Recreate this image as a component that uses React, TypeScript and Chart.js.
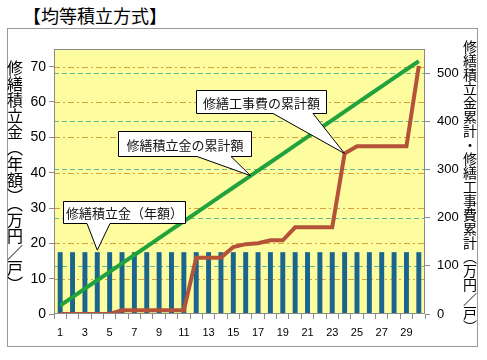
import React, { useEffect, useRef } from 'react';
import { Chart, registerables } from 'chart.js';

Chart.register(...registerables);

const years = ['1','2','3','4','5','6','7','8','9','10','11','12','13','14','15','16','17','18','19','20','21','22','23','24','25','26','27','28','29','30'];
const annualReserve = [17.5,17.5,17.5,17.5,17.5,17.5,17.5,17.5,17.5,17.5,17.5,17.5,17.5,17.5,17.5,17.5,17.5,17.5,17.5,17.5,17.5,17.5,17.5,17.5,17.5,17.5,17.5,17.5,17.5,17.5];
const cumulativeReserve = [17.5,35,52.5,70,87.5,105,122.5,140,157.5,175,192.5,210,227.5,245,262.5,280,297.5,315,332.5,350,367.5,385,402.5,420,437.5,455,472.5,490,507.5,525];
const cumulativeRepair = [0,0,0,0,0,8,8,8,8,8,8,117,117,117,139,145,147,153,153,180,180,180,180,333,348,348,348,348,348,515];
const leftTicks = [0,10,20,30,40,50,60,70];
const rightTicks = [0,100,200,300,400,500];

const titleText = '【均等積立方式】';
const leftTitle = '修繕積立金（年額）（万円／戸）';
const rightTitle = '修繕積立金累計・修繕工事費累計（万円／戸）';
const calloutAnnual = '修繕積立金（年額）';
const calloutReserve = '修繕積立金の累計額';
const calloutRepair = '修繕工事費の累計額';

const JP = '"Noto Sans CJK JP", "Noto Sans", sans-serif';
const NUM = '"Liberation Sans", Arial, sans-serif';

function drawCallout(ctx: CanvasRenderingContext2D, box: number[], base: number[], tip: number[], text: string) {
  const [x1, y1, x2, y2] = box;
  ctx.save();
  ctx.beginPath();
  ctx.moveTo(x1, y1);
  ctx.lineTo(x2, y1);
  ctx.lineTo(x2, y2);
  ctx.lineTo(base[1], y2);
  ctx.lineTo(tip[0], tip[1]);
  ctx.lineTo(base[0], y2);
  ctx.lineTo(x1, y2);
  ctx.closePath();
  ctx.fillStyle = '#ffffff';
  ctx.fill();
  ctx.lineWidth = 1;
  ctx.strokeStyle = '#000000';
  ctx.stroke();
  ctx.fillStyle = '#111';
  ctx.font = '13px ' + JP;
  ctx.textAlign = 'center';
  ctx.textBaseline = 'middle';
  ctx.fillText(text, (x1 + x2) / 2, (y1 + y2) / 2 + 1);
  ctx.restore();
}

const plotPlugin = {
  id: 'plotDecor',
  beforeDatasetsDraw(chart: any) {
    const { ctx, chartArea: a, scales } = chart;
    ctx.save();
    ctx.fillStyle = '#fdfc9e';
    ctx.fillRect(a.left, a.top, a.right - a.left, a.bottom - a.top);
    ctx.lineWidth = 1;
    ctx.strokeStyle = '#d8a23a';
    ctx.setLineDash([6, 3, 2, 3]);
    leftTicks.forEach((v) => {
      if (v === 0) return;
      const y = Math.round(scales.y.getPixelForValue(v)) + 0.5;
      ctx.beginPath();
      ctx.moveTo(a.left, y);
      ctx.lineTo(a.right, y);
      ctx.stroke();
    });
    ctx.strokeStyle = '#62b89a';
    ctx.setLineDash([5, 3]);
    rightTicks.forEach((v) => {
      if (v === 0) return;
      const y = Math.round(scales.y2.getPixelForValue(v)) + 0.5;
      ctx.beginPath();
      ctx.moveTo(a.left, y);
      ctx.lineTo(a.right, y);
      ctx.stroke();
    });
    ctx.restore();
  },
  afterDatasetsDraw(chart: any) {
    const { ctx, chartArea: a } = chart;
    ctx.save();
    ctx.strokeStyle = '#8a8a8a';
    ctx.lineWidth = 1;
    ctx.strokeRect(Math.round(a.left) + 0.5, Math.round(a.top) + 0.5, Math.round(a.right - a.left) - 1, Math.round(a.bottom - a.top) - 1);
    ctx.restore();
  },
  afterDraw(chart: any) {
    const { ctx } = chart;
    const bars = chart.getDatasetMeta(0).data;
    const green = chart.getDatasetMeta(1).data;
    const red = chart.getDatasetMeta(2).data;
    const b = bars[3];
    drawCallout(ctx, [63.5, 201.5, 185.5, 223.5], [87, 110], [b.x, b.y - 2], calloutAnnual);
    const g1 = green[15], g2 = green[16];
    const gt = [g1.x + (g2.x - g1.x) * 0.4, g1.y + (g2.y - g1.y) * 0.4];
    drawCallout(ctx, [118.5, 131.5, 251.5, 156.5], [197, 231], gt, calloutReserve);
    const r = red[23];
    drawCallout(ctx, [196.5, 90.5, 326.5, 113.5], [273, 313], [r.x, r.y], calloutRepair);
  },
};

export default function App() {
  const ref = useRef<HTMLCanvasElement | null>(null);
  useEffect(() => {
    if (!ref.current) return;
    const chart = new Chart(ref.current, {
      type: 'bar',
      data: {
        labels: years,
        datasets: [
          {
            type: 'bar',
            label: calloutAnnual,
            data: annualReserve,
            backgroundColor: '#19658d',
            borderWidth: 0,
            barPercentage: 0.4,
            categoryPercentage: 1,
            yAxisID: 'y',
            order: 3,
          },
          {
            type: 'line',
            label: calloutReserve,
            data: cumulativeReserve,
            borderColor: '#20a33c',
            borderWidth: 4,
            pointRadius: 0,
            tension: 0,
            yAxisID: 'y2',
            order: 2,
          },
          {
            type: 'line',
            label: calloutRepair,
            data: cumulativeRepair,
            borderColor: '#b5533a',
            borderWidth: 4,
            pointRadius: 0,
            tension: 0,
            yAxisID: 'y2',
            order: 1,
          },
        ] as any,
      },
      options: {
        animation: false,
        responsive: false,
        devicePixelRatio: 1,
        layout: { padding: { top: 49, left: 0, right: 0, bottom: 0 } },
        plugins: { legend: { display: false }, tooltip: { enabled: false }, title: { display: false } },
        scales: {
          x: {
            type: 'category',
            offset: true,
            border: { display: false },
            grid: { offset: true, drawOnChartArea: false, drawTicks: true, tickLength: 5, color: '#8a8a8a', tickColor: '#8a8a8a' },
            ticks: {
              autoSkip: false,
              maxRotation: 0,
              minRotation: 0,
              padding: 7,
              color: '#000',
              font: { size: 11, family: NUM },
              callback: function (this: any, v: any, i: number) {
                return i % 2 === 0 ? this.getLabelForValue(v) : '';
              },
            },
            afterFit: (s: any) => { s.height = 46; },
          },
          y: {
            type: 'linear',
            position: 'left',
            min: 0,
            max: 75,
            border: { display: false },
            grid: { drawOnChartArea: false, tickLength: 5, tickColor: '#8a8a8a', color: '#8a8a8a' },
            ticks: { stepSize: 10, padding: 3, color: '#000', font: { size: 14, family: NUM } },
            afterBuildTicks: (s: any) => { s.ticks = leftTicks.map((v) => ({ value: v })); },
            afterFit: (s: any) => { s.width = 54; },
          },
          y2: {
            type: 'linear',
            position: 'right',
            min: 0,
            max: 550,
            border: { display: false },
            grid: { drawOnChartArea: false, tickLength: 5, tickColor: '#8a8a8a', color: '#8a8a8a' },
            ticks: { stepSize: 100, padding: 7, color: '#000', font: { size: 13, family: NUM } },
            afterBuildTicks: (s: any) => { s.ticks = rightTicks.map((v) => ({ value: v })); },
            afterFit: (s: any) => { s.width = 62; },
          },
        },
      } as any,
      plugins: [plotPlugin],
    });
    return () => chart.destroy();
  }, []);

  return (
    <div style={{ position: 'absolute', left: 0, top: 0, width: 487, height: 360, background: '#fff', overflow: 'hidden' }}>
      <div style={{ position: 'absolute', left: 23, top: 4, fontFamily: JP, fontSize: 18, lineHeight: '22px', color: '#000', whiteSpace: 'nowrap' }}>{titleText}</div>
      <div style={{ position: 'absolute', left: 7, top: 28, width: 469, height: 317, border: '1px solid #9a9a9a' }} />
      <canvas ref={ref} width={487} height={360} style={{ position: 'absolute', left: 0, top: 0, width: 487, height: 360 }} />
      <div style={{ position: 'absolute', left: 7, top: 60, width: 16, writingMode: 'vertical-rl', fontFamily: JP, fontSize: 16, lineHeight: '16px', color: '#000', whiteSpace: 'nowrap' }}>{leftTitle}</div>
      <div style={{ position: 'absolute', left: 463, top: 40, width: 14, writingMode: 'vertical-rl', fontFamily: JP, fontSize: 14, lineHeight: '14px', color: '#000', whiteSpace: 'nowrap' }}>{rightTitle}</div>
    </div>
  );
}
